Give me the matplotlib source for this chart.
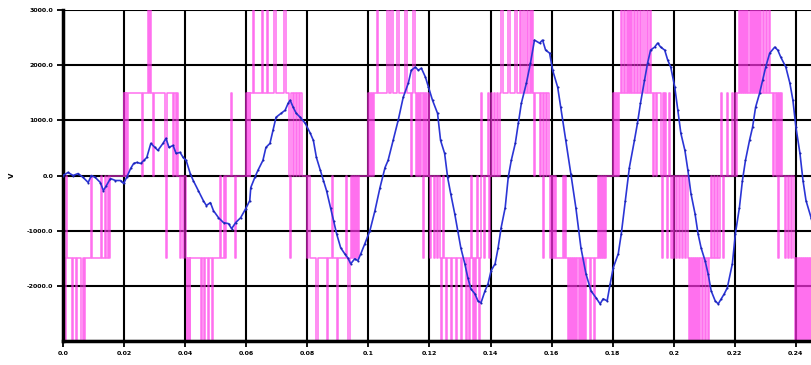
import numpy as np
import matplotlib
matplotlib.use("Agg")
import matplotlib.pyplot as plt

# ---- data ----
# blue waveform: time (ms), voltage (V)
blue_t_ms = [0.0, 1.65, 3.31, 4.96, 6.61, 8.26, 9.26, 10.58, 12.23, 13.22, 14.22, 15.54, 17.19, 18.84,
             19.84, 20.83, 22.15, 23.14, 24.13, 25.46, 26.45, 27.44, 28.76, 30.08, 31.08, 32.73, 33.72,
             34.71, 36.04, 37.03, 38.35, 39.34, 40.33, 41.66, 42.65, 44.30, 45.95, 46.95, 48.27, 49.26,
             50.91, 52.57, 54.22, 55.21, 56.53, 58.19, 59.84, 61.16, 61.49, 62.81, 63.81, 65.46, 66.45,
             67.77, 68.76, 69.76, 71.41, 72.73, 73.72, 74.39, 75.38, 76.37, 77.69, 79.34, 80.99, 81.99,
             82.98, 84.30, 85.29, 86.29, 87.61, 88.60, 89.59, 90.92, 92.24, 93.23, 94.22, 95.54, 96.54,
             97.53, 98.85, 100.50, 102.16, 103.81, 105.46, 106.45, 108.11, 109.76, 111.41, 113.07, 114.06,
             115.38, 116.37, 117.36, 118.69, 119.68, 121.00, 122.65, 123.64, 124.97, 125.96, 126.95,
             128.27, 129.26, 130.26, 131.58, 132.57, 133.56, 134.88, 135.88, 136.87, 138.19, 139.18,
             140.17, 141.50, 142.49, 143.48, 144.80, 145.79, 146.79, 148.11, 149.10, 150.09, 151.74,
             153.07, 154.39, 156.04, 157.04, 158.03, 159.35, 160.34, 161.99, 162.98, 164.64, 166.29,
             167.94, 169.60, 171.25, 172.90, 174.56, 175.88, 176.87, 178.19, 179.18, 180.18, 181.83,
             182.82, 184.14, 185.47, 187.12, 188.11, 189.10, 190.42, 191.42, 192.41, 193.73, 194.72,
             195.72, 197.04, 198.03, 199.02, 200.34, 201.33, 202.33, 203.65, 204.64, 205.63, 206.96,
             207.95, 208.94, 210.26, 211.25, 212.25, 213.57, 214.56, 215.55, 216.54, 217.53, 219.19,
             220.18, 221.50, 222.49, 223.48, 224.81, 225.80, 226.79, 228.11, 229.11, 230.10, 231.42,
             233.07, 234.06, 235.05, 236.71, 238.03, 239.02, 240.01, 241.33, 242.32, 243.31, 244.97,
             246.29, 247.28]
blue_v = [0, 55, 0, 36, -36, -127, 0, -36, -127, -273, -182, -55, -91, -91,
          -145, -36, 127, 218, 236, 218, 273, 327, 582, 509, 455, 582, 673,
          509, 545, 400, 418, 327, 273, 36, -91, -273, -455, -545, -491, -636,
          -764, -855, -873, -964, -855, -764, -600, -455, -218, -36, 91, 273, 509,
          582, 818, 1055, 1127, 1182, 1309, 1364, 1236, 1127, 1055, 945, 764, 636,
          327, 91, -91, -273, -582, -818, -1055, -1309, -1418, -1491, -1600, -1509, -1545,
          -1418, -1236, -1000, -636, -218, 145, 273, 636, 1000, 1418, 1673, 1909,
          1964, 1909, 1945, 1782, 1600, 1364, 1127, 636, 400, -36, -327,
          -691, -1000, -1309, -1600, -1855, -2055, -2145, -2273, -2309, -2091, -1964,
          -1727, -1600, -1309, -945, -582, -36, 273, 582, 945, 1309, 1673,
          2036, 2455, 2400, 2455, 2273, 2218, 1909, 1600, 1236, 636, 36,
          -582, -1309, -1782, -2091, -2218, -2327, -2236, -2273, -1964, -1673, -1418,
          -1055, -455, 145, 636, 945, 1309, 1727, 2036, 2273, 2327, 2400,
          2327, 2273, 2091, 1964, 1600, 1182, 764, 455, 91, -327, -691,
          -1055, -1309, -1545, -1782, -2091, -2273, -2327, -2236, -2145, -2036, -1600,
          -1055, -582, -91, 273, 636, 873, 1236, 1491, 1727, 1964, 2218,
          2327, 2273, 2145, 1964, 1673, 1364, 873, 400, -91, -455, -764,
          -1055, -1418]

# magenta multilevel PWM: switching instants (ms) and level after each instant (V)
pwm_t_ms = [0.0, 0.23, 0.43, 0.66, 0.86, 1.06, 1.26, 2.98, 3.31, 4.30, 4.63, 5.95, 6.45, 6.78, 7.11,
            9.26, 9.59, 12.56, 12.89, 13.89, 14.22, 14.88, 15.21, 15.54, 19.84, 20.07, 20.27, 20.50,
            20.69, 20.93, 21.16, 25.79, 26.12, 27.77, 28.27, 28.60, 28.93, 29.42, 29.75, 33.39, 33.72,
            34.05, 36.03, 36.37, 36.86, 37.19, 37.69, 38.35, 38.68, 39.17, 39.51, 40.33, 40.56, 40.76,
            40.99, 41.23, 41.49, 41.75, 45.29, 45.62, 46.28, 46.61, 47.61, 47.94, 48.93, 49.26, 51.57,
            51.90, 52.57, 52.90, 53.23, 54.88, 55.21, 56.20, 56.53, 59.84, 60.17, 60.50, 60.73, 60.93,
            61.16, 61.39, 62.15, 62.65, 65.13, 65.62, 66.78, 67.27, 69.09, 69.59, 72.40, 72.90, 74.05,
            74.39, 74.72, 75.38, 75.71, 76.37, 76.70, 77.36, 77.69, 78.35, 80.00, 80.34, 81.00, 82.98,
            83.48, 86.29, 86.78, 87.94, 88.27, 89.59, 90.09, 92.57, 92.90, 93.39, 93.89, 94.22, 94.55,
            94.88, 95.21, 95.54, 95.87, 96.20, 96.54, 96.87, 99.84, 100.17, 100.50, 100.83, 101.16,
            101.49, 101.82, 102.82, 103.31, 106.12, 106.62, 107.44, 107.94, 109.43, 109.92, 112.07,
            112.57, 114.06, 114.39, 114.72, 115.21, 115.54, 115.87, 116.37, 116.70, 117.03, 117.36,
            118.02, 118.35, 118.69, 119.02, 119.35, 119.84, 120.01, 120.34, 120.67, 121.33, 121.66,
            122.32, 122.65, 123.31, 123.64, 123.98, 124.31, 124.64, 125.30, 125.63, 126.95, 127.28,
            128.60, 128.93, 130.26, 130.59, 131.91, 132.24, 132.90, 133.40, 133.56, 133.89, 134.22,
            134.55, 134.88, 135.21, 135.55, 135.88, 136.21, 136.54, 136.87, 137.20, 137.86, 138.19,
            139.18, 139.51, 139.84, 140.17, 140.51, 141.17, 141.50, 142.16, 142.49, 143.15, 143.48,
            143.97, 145.79, 146.29, 148.11, 148.60, 149.76, 150.09, 150.75, 151.41, 152.08, 152.41,
            153.07, 153.40, 153.73, 154.06, 154.39, 154.72, 156.04, 156.37, 157.04, 157.37, 158.03,
            158.36, 159.02, 159.35, 159.68, 160.01, 160.34, 160.67, 161.00, 161.33, 163.65, 163.98,
            164.31, 164.64, 165.30, 165.63, 165.96, 166.29, 166.62, 166.95, 167.28, 167.61, 167.94,
            168.44, 168.94, 169.27, 169.60, 169.93, 170.26, 170.59, 170.92, 171.25, 172.57, 172.90,
            173.90, 174.23, 175.22, 175.55, 175.88, 176.21, 176.54, 176.87, 177.20, 177.53, 177.86,
            180.18, 180.51, 180.84, 181.17, 181.50, 181.83, 182.16, 182.82, 183.15, 183.81, 184.14,
            184.81, 185.14, 185.47, 185.80, 186.13, 186.46, 187.12, 187.45, 188.11, 188.44, 189.10,
            189.43, 190.09, 190.43, 191.09, 191.42, 192.08, 192.41, 193.07, 193.40, 194.06, 194.39,
            195.72, 196.05, 196.38, 196.71, 197.04, 197.37, 197.70, 198.03, 198.36, 198.69, 199.02,
            199.35, 199.68, 200.01, 200.67, 201.00, 201.67, 202.00, 202.66, 202.99, 203.65, 203.98,
            204.64, 204.97, 205.30, 205.63, 205.96, 206.29, 206.63, 206.96, 207.29, 207.62, 207.95,
            208.28, 208.61, 209.27, 209.60, 210.26, 210.59, 211.25, 211.58, 212.25, 212.58, 213.24,
            213.57, 214.23, 214.56, 215.22, 215.55, 215.88, 216.21, 216.54, 217.53, 217.86, 219.19,
            219.52, 220.18, 220.51, 220.84, 221.50, 221.83, 222.16, 222.49, 222.82, 223.15, 223.48,
            223.81, 224.14, 224.47, 224.81, 225.14, 225.47, 225.80, 226.13, 226.46, 226.79, 227.12,
            227.45, 227.78, 228.11, 228.44, 229.11, 229.44, 230.10, 230.43, 231.09, 231.42, 232.41,
            232.74, 233.40, 233.73, 234.06, 234.39, 234.72, 235.05, 235.39, 236.38, 236.71, 237.37,
            237.70, 238.36, 238.69, 239.35, 239.68, 240.01, 240.34, 240.67, 241.00, 241.33, 241.66,
            241.99, 242.32, 242.65, 242.98, 243.31, 243.64, 243.98, 244.31, 244.64, 244.97, 245.30,
            245.63, 245.96, 246.29, 246.62, 246.95, 247.28]
pwm_v = [-3000, 0, -1500, -3000, -1500, 0, -1500, -3000, -1500, -3000, -1500, -3000, -1500, -3000, -1500,
         0, -1500, 0, -1500, 0, -1500, 0, -1500, 0, 1500, 0, 1500, 0,
         1500, 0, 1500, 0, 1500, 3000, 1500, 3000, 1500, 0, 1500, 0, -1500,
         1500, 0, 1500, 0, 1500, 0, -1500, 0, -1500, 0, -1500, -3000, -1500,
         -3000, -1500, -3000, -1500, -3000, -1500, -3000, -1500, -3000, -1500, -3000, -1500, 0,
         -1500, 0, -1500, 0, 1500, 0, -1500, 0, 1500, 0, 1500, 0, 1500,
         0, 1500, 3000, 1500, 3000, 1500, 3000, 1500, 3000, 1500, 3000, 1500, 0,
         -1500, 1500, 0, 1500, 0, 1500, 0, 1500, 0, -1500, 0, -1500, -3000,
         -1500, -3000, -1500, 0, -1500, -3000, -1500, 0, -1500, -3000, -1500, 0, -1500,
         0, -1500, 0, -1500, 0, -1500, 0, 1500, 0, 1500, 0, 1500,
         0, 1500, 3000, 1500, 3000, 1500, 3000, 1500, 3000, 1500, 3000,
         1500, 0, 1500, 3000, 1500, 0, 1500, 0, 1500, 0, 1500,
         -1500, 1500, 0, 1500, 0, 1500, 0, -1500, 0, -1500, 0,
         -1500, 0, -1500, -3000, -1500, 0, -1500, -3000, -1500, -3000, -1500,
         -3000, -1500, -3000, -1500, -3000, -1500, -3000, -1500, 0, -1500, -3000,
         -1500, -3000, -1500, 0, -1500, -3000, -1500, 1500, 0, -1500, 0,
         1500, -1500, 0, 1500, 0, 1500, 0, 1500, 0, 1500, 3000,
         1500, 3000, 1500, 3000, 1500, 3000, 1500, 3000, 1500, 3000, 1500,
         3000, 1500, 3000, 1500, 0, 1500, 0, 1500, -1500, 1500, 0,
         1500, 0, -1500, 0, -1500, 0, -1500, 0, -1500, 0, -1500,
         0, -1500, -3000, -1500, -3000, -1500, -3000, -1500, -3000, -1500, -3000,
         -1500, -3000, -1500, -3000, -1500, -3000, -1500, -3000, -1500, -3000, -1500,
         -3000, -1500, 0, -1500, 0, -1500, 0, -1500, 0, -1500, 0,
         1500, 0, 1500, 0, 1500, 0, 1500, 3000, 1500, 3000, 1500,
         3000, 1500, 3000, 1500, 3000, 1500, 3000, 1500, 3000, 1500, 3000,
         1500, 3000, 1500, 3000, 1500, 3000, 1500, 0, 1500, 0, 1500,
         0, -1500, 1500, 0, 1500, 0, -1500, 0, 1500, 0, -1500,
         0, -1500, 0, -1500, 0, -1500, 0, -1500, 0, -1500, 0,
         -1500, -3000, -1500, -3000, -1500, -3000, -1500, -3000, -1500, -3000, -1500,
         -3000, -1500, -3000, -1500, -3000, -1500, -3000, -1500, 0, -1500, 0,
         -1500, 0, -1500, 0, 1500, 0, -1500, 0, 1500, 0, 1500,
         0, 1500, 0, 1500, 3000, 1500, 3000, 1500, 3000, 1500, 3000,
         1500, 3000, 1500, 3000, 1500, 3000, 1500, 3000, 1500, 3000, 1500,
         3000, 1500, 3000, 1500, 3000, 1500, 3000, 1500, 3000, 1500, 0,
         1500, 0, 1500, -1500, 1500, 0, 1500, 0, -1500, 0, -1500,
         0, -1500, 0, -1500, -3000, -1500, -3000, -1500, -3000, -1500, -3000,
         -1500, -3000, -1500, -3000, -1500, -3000, -1500, -3000, -1500, -3000, -1500,
         -3000, -1500, -3000, -1500, -3000, -1500]

x_ticks = [0.0, 0.02, 0.04, 0.06, 0.08, 0.1, 0.12, 0.14, 0.16, 0.18, 0.2, 0.22, 0.24]
x_ticklabels = ["0.0", "0.02", "0.04", "0.06", "0.08", "0.1", "0.12", "0.14", "0.16", "0.18", "0.2", "0.22", "0.24"]
y_ticks = [3000, 2000, 1000, 0, -1000, -2000]
y_ticklabels = ["3000.0", "2000.0", "1000.0", "0.0", "-1000.0", "-2000.0"]
y_grid = [3000, 2000, 1000, 0, -1000, -2000, -3000]

# ---- figure ----
W, H = 811, 365
fig = plt.figure(figsize=(W / 100, H / 100), dpi=100)
ax = fig.add_axes([63 / W, 1 - 341 / H, 1 - 63 / W + 0.01, (341 - 10) / H])

ax.set_xlim(0, 0.2476)
ax.set_ylim(-3000, 3000)

for yv in y_grid:
    ax.axhline(yv, color="black", lw=1.5, zorder=1)
for xv in x_ticks[1:]:
    ax.axvline(xv, color="black", lw=1.5, zorder=1)

pt = np.array(pwm_t_ms) / 1000.0
ax.step(pt, pwm_v, where="post", color="#ff33e8", lw=1.1, alpha=0.7, zorder=2)

bt = np.array(blue_t_ms) / 1000.0
ax.plot(bt, blue_v, color="#2b35d6", lw=1.2, zorder=3, marker="o", ms=1.5,
        markeredgewidth=0, markerfacecolor="#1a22b0")

ax.set_xticks(x_ticks)
ax.set_xticklabels(x_ticklabels)
ax.set_yticks(y_ticks)
ax.set_yticklabels(y_ticklabels)
ax.tick_params(axis="both", direction="out", length=4, width=1.3, labelsize=4.5,
               colors="black", pad=3)
for lab in ax.get_xticklabels() + ax.get_yticklabels():
    lab.set_fontweight("bold")

ax.spines["left"].set_linewidth(2.5)
ax.spines["bottom"].set_linewidth(2.5)
ax.spines["top"].set_visible(False)
ax.spines["right"].set_visible(False)

fig.text(12 / W, 1 - 175 / H, "V", rotation=90, fontsize=5, fontweight="bold",
         ha="center", va="center")

fig.savefig("out.png", dpi=100)
